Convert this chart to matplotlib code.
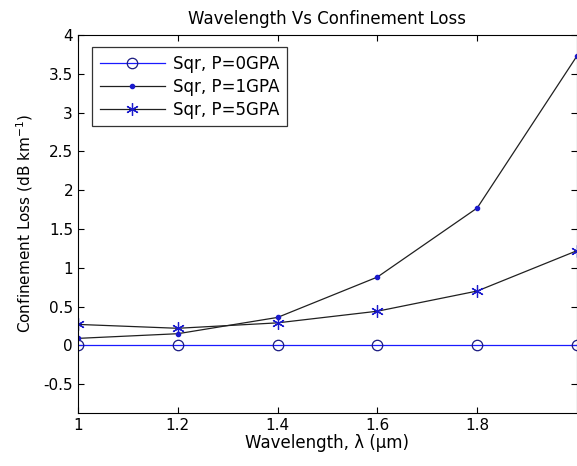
import numpy as np
import matplotlib.pyplot as plt

# Comprimento de onda (um) e perdas de confinamento (dB/km)
comprimento_onda = [1.0, 1.2, 1.4, 1.6, 1.8, 2.0]
perda_p0 = [0.0, 0.0, 0.0, 0.0, 0.0, 0.0]
perda_p1 = [0.09, 0.15, 0.36, 0.88, 1.77, 3.73]
perda_p5 = [0.27, 0.22, 0.29, 0.44, 0.70, 1.22]
rotulos = ['Sqr, P=0GPA', 'Sqr, P=1GPA', 'Sqr, P=5GPA']

plt.rcParams['font.family'] = ['DejaVu Sans']
plt.rcParams['mathtext.fontset'] = 'dejavusans'

fig = plt.figure(figsize=(5.77, 4.66), dpi=100)
ax = fig.add_axes([0.135, 0.114, 0.865, 0.811])

ax.plot(comprimento_onda, perda_p0, color='#1a1aff', lw=0.9, marker='o',
        ms=7.5, mfc='none', mec='#1a1a80', mew=0.9, label=rotulos[0])
ax.plot(comprimento_onda, perda_p1, color='#202020', lw=0.9, marker='.',
        ms=6, mfc='#1a1acc', mec='#1a1acc', label=rotulos[1])
# asterisco no estilo do MATLAB
ax.plot(comprimento_onda, perda_p5, color='#202020', lw=0.9, marker=(6, 2, 0),
        ms=9, mfc='#1a1acc', mec='#1a1acc', mew=0.9, label=rotulos[2])

ax.set_xlim(1.0, 2.0)
ax.set_ylim(-0.87, 4.0)
ax.set_xticks([1.0, 1.2, 1.4, 1.6, 1.8])
ax.set_xticklabels(['1', '1.2', '1.4', '1.6', '1.8'])
ax.set_yticks(np.arange(-0.5, 4.01, 0.5))
ax.set_yticklabels(['-0.5', '0', '0.5', '1', '1.5', '2', '2.5', '3', '3.5', '4'])
ax.tick_params(direction='in', top=True, right=True, labelsize=11, length=4)

ax.set_title('Wavelength Vs Confinement Loss', fontsize=12, pad=8)
ax.set_xlabel('Wavelength, \u03bb (\u03bcm)', fontsize=12, labelpad=1)
ax.set_ylabel('Confinement Loss (dB km$^{-1}$)', fontsize=11, labelpad=6)

leg = ax.legend(loc='upper left', bbox_to_anchor=(0.012, 0.99), fontsize=12,
                frameon=True, fancybox=False, edgecolor='black',
                handlelength=3.9, borderpad=0.45, labelspacing=0.3,
                handletextpad=0.5)
leg.get_frame().set_linewidth(0.9)

plt.savefig('out.png', dpi=100)
plt.close()
